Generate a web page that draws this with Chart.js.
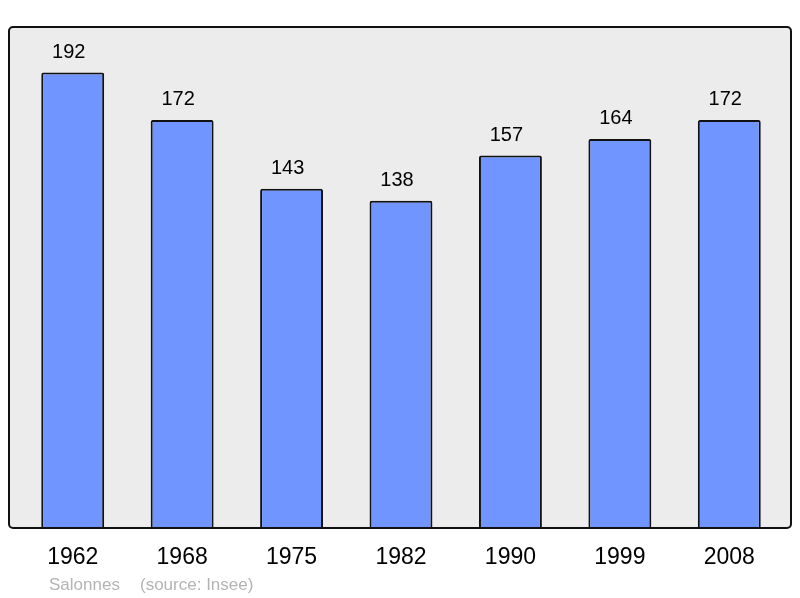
<!DOCTYPE html>
<html>
<head>
<meta charset="utf-8">
<script src="https://cdn.jsdelivr.net/npm/chart.js@4.4.1/dist/chart.umd.min.js"></script>
<style>
  html, body { margin: 0; padding: 0; background: #ffffff; }
  #wrap { width: 800px; height: 598px; position: relative; }
</style>
</head>
<body>
<div id="wrap"><canvas id="pop"></canvas></div>
<script>
const years = ["1962", "1968", "1975", "1982", "1990", "1999", "2008"];
const population = [192, 172, 143, 138, 157, 164, 172];
const commune = "Salonnes";
const source = "(source: Insee)";

// gray panel with black frame, a bit wider than the chart area
const framePlugin = {
    id: "frame",
    beforeDatasetsDraw(chart) {
        const { ctx, chartArea } = chart;
        const left = 9, right = 791;
        ctx.save();
        ctx.beginPath();
        ctx.roundRect(left, chartArea.top, right - left, chartArea.bottom - chartArea.top, 4);
        ctx.fillStyle = "#ececec";
        ctx.fill();
        ctx.restore();
    },
    afterDatasetsDraw(chart) {
        const { ctx, chartArea } = chart;
        const left = 9, right = 791;
        ctx.save();
        ctx.beginPath();
        ctx.roundRect(left, chartArea.top, right - left, chartArea.bottom - chartArea.top, 4);
        ctx.lineWidth = 2;
        ctx.strokeStyle = "#111111";
        ctx.stroke();
        ctx.restore();
    }
};

const valueLabels = {
    id: "valueLabels",
    afterDatasetsDraw(chart) {
        const { ctx } = chart;
        const meta = chart.getDatasetMeta(0);
        ctx.save();
        ctx.font = "20px 'Liberation Sans', Arial, sans-serif";
        ctx.fillStyle = "#000000";
        ctx.textAlign = "center";
        ctx.textBaseline = "alphabetic";
        meta.data.forEach((bar, i) => {
            ctx.fillText(String(population[i]), bar.x - 4, bar.y - 15);
        });
        ctx.restore();
    }
};

const caption = {
    id: "caption",
    afterDraw(chart) {
        const { ctx } = chart;
        ctx.save();
        ctx.font = "17px 'Liberation Sans', Arial, sans-serif";
        ctx.fillStyle = "#b4b4b4";
        ctx.textBaseline = "alphabetic";
        ctx.fillText(commune, 49, 590);
        ctx.fillText(source, 140, 590);
        ctx.restore();
    }
};

new Chart(document.getElementById("pop"), {
    type: "bar",
    data: {
        labels: years,
        datasets: [{
            data: population,
            backgroundColor: "#7095ff",
            borderColor: "#111111",
            borderWidth: 2,
            borderRadius: 2,
            borderSkipped: "bottom",
            barPercentage: 0.575,
            categoryPercentage: 1
        }]
    },
    options: {
        responsive: true,
        maintainAspectRatio: false,
        animation: false,
        layout: {
            padding: { left: 18, right: 16, top: 27, bottom: 0 }
        },
        plugins: {
            legend: { display: false },
            tooltip: { enabled: false }
        },
        scales: {
            x: {
                grid: { display: false },
                border: { display: false },
                ticks: {
                    color: "#000000",
                    font: { family: "'Liberation Sans', Arial, sans-serif", size: 23 },
                    padding: 8,
                    maxRotation: 0
                },
                afterFit(scale) { scale.height = 70; }
            },
            y: {
                display: false,
                min: 0,
                max: 211.2
            }
        }
    },
    plugins: [framePlugin, valueLabels, caption]
});
</script>
</body>
</html>
